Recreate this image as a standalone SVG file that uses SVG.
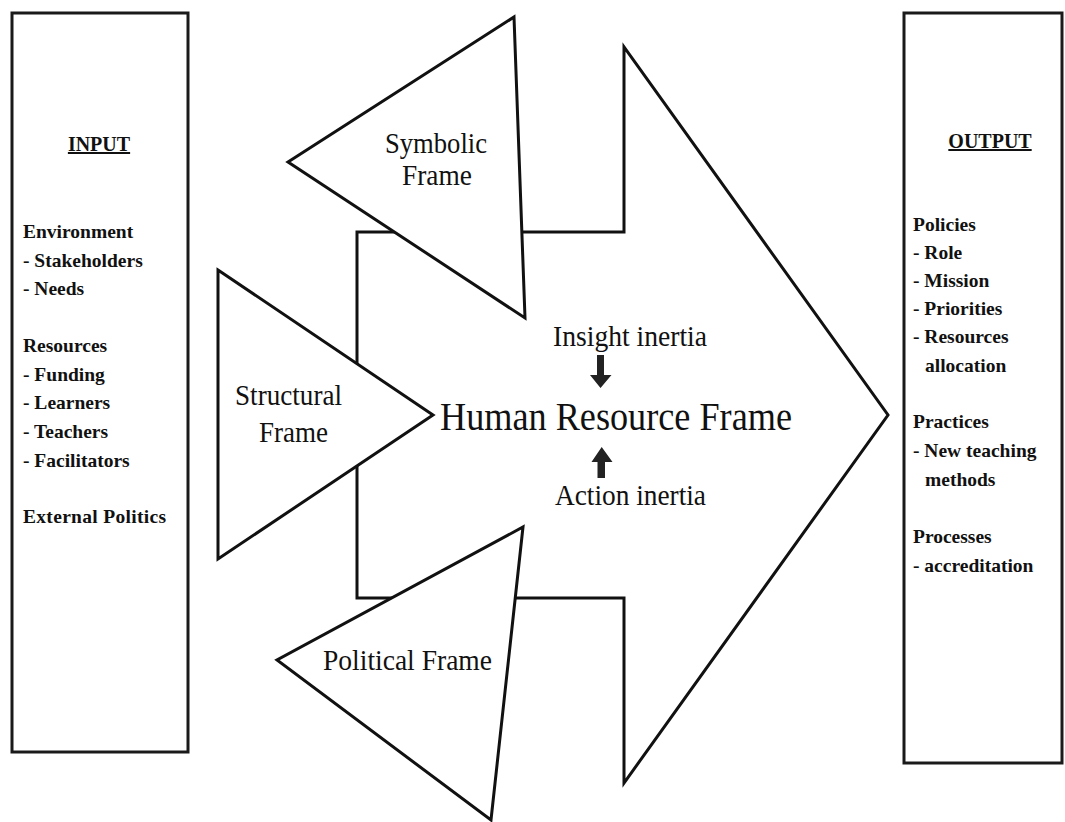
<svg xmlns="http://www.w3.org/2000/svg" width="1065" height="822" viewBox="0 0 1065 822">
<style>
.box{fill:#fff;stroke:#1a1a1a;stroke-width:3}
.shape{fill:#fff;stroke:#111;stroke-width:3;stroke-linejoin:miter}
.lst{font-family:"Liberation Serif","Times New Roman",serif;font-weight:bold;font-size:19.5px;fill:#111}
.hd{font-family:"Liberation Serif","Times New Roman",serif;font-weight:bold;font-size:20px;fill:#111;text-anchor:middle;text-decoration:underline}
.lbl{font-family:"Liberation Serif","Times New Roman",serif;font-size:29px;fill:#111;text-anchor:middle}
.big{font-family:"Liberation Serif","Times New Roman",serif;font-size:39px;fill:#111;text-anchor:middle}
.arr{fill:#222;stroke:none}
</style>
<rect width="1065" height="822" fill="#fff"/>

<g id="input">
<rect class="box" x="12" y="13" width="176" height="739"/>
<text class="hd" x="99" y="151">INPUT</text>
<text class="lst" x="23" y="238">Environment</text>
<text class="lst" x="23" y="267">- Stakeholders</text>
<text class="lst" x="23" y="295">- Needs</text>
<text class="lst" x="23" y="352">Resources</text>
<text class="lst" x="23" y="381">- Funding</text>
<text class="lst" x="23" y="409">- Learners</text>
<text class="lst" x="23" y="438">- Teachers</text>
<text class="lst" x="23" y="467">- Facilitators</text>
<text class="lst" x="23" y="523" textLength="143" lengthAdjust="spacing">External Politics</text>
</g>

<g id="output">
<rect class="box" x="904" y="13" width="158" height="750"/>
<text class="hd" x="990" y="148">OUTPUT</text>
<text class="lst" x="913" y="231">Policies</text>
<text class="lst" x="913" y="259">- Role</text>
<text class="lst" x="913" y="287">- Mission</text>
<text class="lst" x="913" y="315">- Priorities</text>
<text class="lst" x="913" y="343">- Resources</text>
<text class="lst" x="925" y="372">allocation</text>
<text class="lst" x="913" y="428">Practices</text>
<text class="lst" x="913" y="457">- New teaching</text>
<text class="lst" x="925" y="486">methods</text>
<text class="lst" x="913" y="543">Processes</text>
<text class="lst" x="913" y="572">- accreditation</text>
</g>

<g id="human-resource-frame">
<polygon class="shape" points="357,232 624,232 624,47 888,415 624,783 624,598 357,598"/>
<text class="lbl" x="630" y="346" textLength="154" lengthAdjust="spacingAndGlyphs">Insight inertia</text>
<text class="big" x="616" y="430" textLength="352" lengthAdjust="spacingAndGlyphs">Human Resource Frame</text>
<text class="lbl" x="630.5" y="505" textLength="151" lengthAdjust="spacingAndGlyphs">Action inertia</text>
</g>

<g id="symbolic-frame">
<polygon class="shape" points="514,17 525,318 288,162"/>
<text class="lbl" x="436" y="153" textLength="102" lengthAdjust="spacingAndGlyphs">Symbolic</text>
<text class="lbl" x="437" y="185" textLength="70" lengthAdjust="spacingAndGlyphs">Frame</text>
</g>

<g id="structural-frame">
<polygon class="shape" points="218,270 433,415 218,559"/>
<text class="lbl" x="288.5" y="405" textLength="107" lengthAdjust="spacingAndGlyphs">Structural</text>
<text class="lbl" x="293.5" y="442" textLength="69" lengthAdjust="spacingAndGlyphs">Frame</text>
</g>

<g id="political-frame">
<polygon class="shape" points="523,527 491,820 277,660"/>
<text class="lbl" x="407.5" y="670" textLength="169" lengthAdjust="spacingAndGlyphs">Political Frame</text>
</g>

<g id="connectors">
<polygon class="arr" points="597,355 604,355 604,375 611.5,375 600.5,388 590,375 597,375"/>
<polygon class="arr" points="601.7,447 612.5,462 605,462 605,478 597.5,478 597.5,462 591.5,462"/>
</g>
</svg>
